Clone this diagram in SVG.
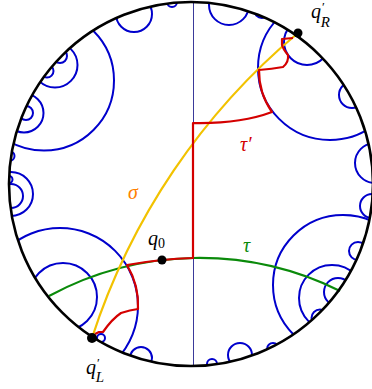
<svg xmlns="http://www.w3.org/2000/svg" width="372" height="389" viewBox="0 0 372 389">
<style>
.b{fill:none;stroke:#0000cc;stroke-width:2}
.lab{font-family:"Liberation Serif",serif;font-style:italic}
</style>
<defs>
<clipPath id="disk"><circle cx="191" cy="184" r="182"/></clipPath>
</defs>
<rect width="372" height="389" fill="#fff"/>
<g id="geodesics" clip-path="url(#disk)">
<line x1="193.5" y1="0" x2="193.5" y2="389" stroke="#3a3a9a" stroke-width="1"/>
<circle class="b" cx="44" cy="80.5" r="70"/>
<circle class="b" cx="134" cy="14" r="18"/>
<circle class="b" cx="172" cy="2" r="5"/>
<circle class="b" cx="55" cy="65" r="22.5"/>
<circle class="b" cx="60" cy="56" r="7"/>
<circle class="b" cx="47" cy="71" r="6.5"/>
<circle class="b" cx="24" cy="113" r="19.5"/>
<circle class="b" cx="26" cy="113" r="7"/>
<circle class="b" cx="10" cy="156" r="4.5"/>
<circle class="b" cx="11" cy="194" r="22"/>
<circle class="b" cx="11" cy="196" r="12"/>
<circle class="b" cx="9" cy="179.5" r="3.5"/>
<circle class="b" cx="9" cy="230" r="3.5"/>
<circle class="b" cx="60" cy="306" r="78"/>
<circle class="b" cx="63" cy="297" r="34"/>
<circle class="b" cx="101" cy="338" r="4"/>
<circle class="b" cx="141" cy="358" r="11"/>
<circle class="b" cx="372" cy="206" r="12"/>
<circle class="b" cx="343" cy="285" r="70"/>
<circle class="b" cx="358" cy="251" r="9"/>
<circle class="b" cx="332" cy="298" r="33"/>
<circle class="b" cx="338" cy="292" r="14"/>
<circle class="b" cx="320" cy="318" r="8.5"/>
<circle class="b" cx="240" cy="355" r="12"/>
<circle class="b" cx="273" cy="349" r="6"/>
<circle class="b" cx="212" cy="364" r="5"/>
<circle class="b" cx="229" cy="5" r="20"/>
<circle class="b" cx="262" cy="10" r="8"/>
<circle class="b" cx="330" cy="68" r="72"/>
<circle class="b" cx="307" cy="42" r="23"/>
<circle class="b" cx="352" cy="95" r="13"/>
<circle class="b" cx="375" cy="163" r="20"/>
</g>
<g id="connectors" fill="none" stroke-width="2.2" stroke-linejoin="round">
<path id="tau" d="M49,296 A316,316 0 0 1 340,291" stroke="#0a8a0a"/>
<path id="sigma" d="M92,338 A664,664 0 0 1 298,33" stroke="#f2c200"/>
<path id="tau-prime" stroke="#d40000" d="M95,334 L99,332 L103,332 Q112,319 121,313 Q130,310 138,309 A78,78 0 0 0 127,265 Q160,259 193,258 L193,123 Q240,124 272,112 A72,72 0 0 1 259,70 Q272,69 283,67 Q289,62 288,55 Q283,49 282,45 L282,39 L293,38"/>
</g>
<circle cx="191" cy="184" r="182" fill="none" stroke="#000" stroke-width="2.6"/>
<g id="q0"><circle cx="162" cy="260" r="4.5"/><text class="lab" x="148" y="245" font-size="20">q<tspan font-style="normal" font-size="14" dy="3">0</tspan></text></g>
<g id="qR"><circle cx="298" cy="33" r="4.5"/><text class="lab" x="311" y="18" font-size="20">q<tspan font-style="normal" font-size="13" dx="1" dy="-7">′</tspan><tspan font-size="15" dx="-4" dy="16">R</tspan></text></g>
<g id="qL"><circle cx="92" cy="338" r="5"/><text class="lab" x="86" y="374" font-size="20">q<tspan font-style="normal" font-size="13" dx="1" dy="-7">′</tspan><tspan font-size="15" dx="-4" dy="15">L</tspan></text></g>
<text id="sigma-label" class="lab" x="128" y="199" font-size="20" fill="#ff8000">σ</text>
<text id="tau-prime-label" class="lab" x="240" y="151" font-size="20" fill="#d40000">τ′</text>
<text id="tau-label" class="lab" x="243" y="252" font-size="20" fill="#0a8a0a">τ</text>
</svg>
